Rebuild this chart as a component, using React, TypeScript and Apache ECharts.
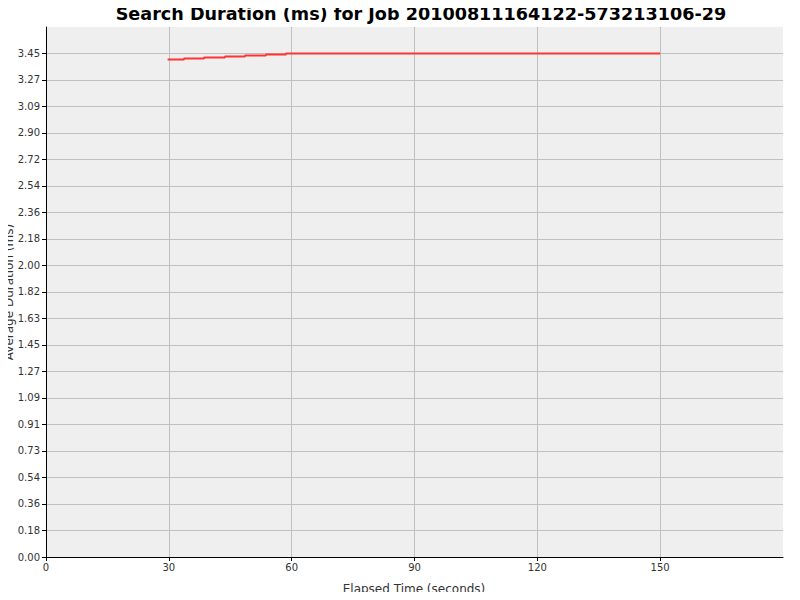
import React, { useEffect, useRef } from "react";
import * as echarts from "echarts";

const titleText = "Search Duration (ms) for Job 20100811164122-573213106-29";
const xAxisName = "Elapsed Time (seconds)";
const yAxisName = "Average Duration (ms)";

const elapsedSeconds = [29.7, 33.7, 38.6, 43.7, 48.6, 53.7, 58.6, 150];
const avgDuration = [3.407, 3.414, 3.421, 3.428, 3.435, 3.442, 3.449, 3.449];

const X_MIN = 0;
const X_MAX = 180;
const X_INTERVAL = 30;
const Y_MIN = 0;
const Y_MAX = 3.63;
const Y_INTERVAL = 0.18153;

export default function App() {
  const ref = useRef<HTMLDivElement>(null);

  useEffect(() => {
    if (!ref.current) return;
    const chart = echarts.init(ref.current, undefined, { renderer: "svg" });
    const font = "'DejaVu Sans', 'Lucida Sans', sans-serif";
    chart.setOption({
      animation: false,
      backgroundColor: "#ffffff",
      textStyle: { fontFamily: font },
      graphic: [
        {
          type: "text",
          x: 421,
          y: 14,
          style: {
            text: titleText,
            font: `bold 17.6px ${font}`,
            fill: "#000000",
            textAlign: "center",
            textVerticalAlign: "middle",
          },
        },
        {
          type: "text",
          x: 9,
          y: 292,
          rotation: Math.PI / 2,
          style: {
            text: yAxisName,
            font: `12px ${font}`,
            fill: "#333333",
            textAlign: "center",
            textVerticalAlign: "middle",
          },
        },
        {
          type: "text",
          x: 414,
          y: 589,
          style: {
            text: xAxisName,
            font: `12px ${font}`,
            fill: "#333333",
            textAlign: "center",
            textVerticalAlign: "middle",
          },
        },
      ],
      grid: {
        left: 46,
        right: 17,
        top: 27,
        bottom: 43,
        containLabel: false,
        outerBoundsMode: "none",
        show: true,
        backgroundColor: "#efefef",
        borderWidth: 0,
      },
      xAxis: {
        type: "value",
        min: X_MIN,
        max: X_MAX,
        interval: X_INTERVAL,
        axisLine: { show: true, onZero: false, lineStyle: { color: "#000000", width: 1 } },
        axisTick: { show: true, inside: false, length: 4, lineStyle: { color: "#000000" } },
        axisLabel: { fontFamily: font, fontSize: 10, color: "#333333", margin: 5, showMaxLabel: false },
        splitLine: { show: true, showMinLine: false, showMaxLine: false, lineStyle: { color: "#c0c0c0", width: 1 } },
      },
      yAxis: {
        type: "value",
        min: Y_MIN,
        max: Y_MAX,
        interval: Y_INTERVAL,
        axisLine: { show: true, onZero: false, lineStyle: { color: "#000000", width: 1 } },
        axisTick: { show: true, inside: false, length: 4, lineStyle: { color: "#000000" } },
        axisLabel: {
          fontFamily: font,
          fontSize: 10,
          color: "#333333",
          margin: 6,
          showMaxLabel: false,
          formatter: (v: number) => v.toFixed(2),
        },
        splitLine: { show: true, showMinLine: false, showMaxLine: false, lineStyle: { color: "#c0c0c0", width: 1 } },
      },
      series: [
        {
          type: "line",
          step: "end",
          data: elapsedSeconds.map((x, i) => [x, avgDuration[i]]),
          showSymbol: false,
          symbol: "none",
          lineStyle: { color: "#ff3333", width: 2 },
          itemStyle: { color: "#ff3333" },
        },
      ],
    });
    return () => chart.dispose();
  }, []);

  return <div ref={ref} style={{ width: 800, height: 600, margin: -8 }} />;
}
